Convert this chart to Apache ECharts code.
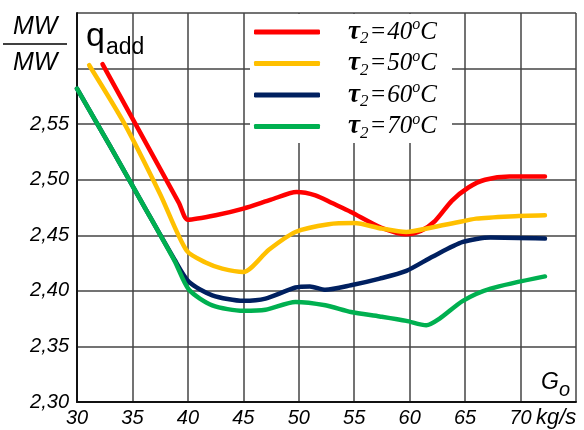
<!DOCTYPE html>
<html><head><meta charset="utf-8">
<script src="https://cdn.jsdelivr.net/npm/echarts@6/dist/echarts.min.js"></script>
<style>html,body{margin:0;padding:0;background:#fff}#c{width:584px;height:430px}</style>
</head><body><div id="c"></div>
<script>
const seriesNames = ['40', '50', '60', '70'];
const colors = ['#ff0000', '#ffc000', '#002060', '#00b050'];
const xTicks = [30, 35, 40, 45, 50, 55, 60, 65, 70, 75];
const yTicks = [2.30, 2.35, 2.40, 2.45, 2.50, 2.55, 2.60, 2.65];

const redX = [32.3, 36, 39.2, 40, 42.5, 45, 47.5, 49.8, 51.5, 53, 54.7, 57.4, 59.6, 61, 62.3, 63.8, 65.3, 66.8, 69, 72.2];
const redY = [2.604, 2.537, 2.479, 2.464, 2.468, 2.474, 2.482, 2.489, 2.486, 2.479, 2.471, 2.457, 2.451, 2.454, 2.463, 2.481, 2.493, 2.500, 2.503, 2.503];

const yelX = [31.1, 34.3, 37.5, 39.9, 41.7, 43.1, 45, 47.3, 49.7, 52.7, 55, 57.5, 59.7, 62, 64, 66, 69, 72.2];
const yelY = [2.603, 2.550, 2.487, 2.436, 2.425, 2.420, 2.417, 2.437, 2.453, 2.460, 2.461, 2.456, 2.453, 2.457, 2.461, 2.465, 2.467, 2.468];

const navX = [30, 33, 36, 38.8, 40.1, 42.2, 45, 47, 49.7, 51, 52.4, 54.7, 57.3, 59.7, 62.1, 64.8, 67.3, 72.2];
const navY = [2.582, 2.530, 2.477, 2.428, 2.408, 2.396, 2.391, 2.393, 2.403, 2.404, 2.401, 2.405, 2.411, 2.418, 2.431, 2.444, 2.448, 2.447];

const grnX = [30, 33, 36, 38.8, 40.1, 42.2, 45, 47, 49.7, 52.4, 54.7, 57.3, 59.7, 61.5, 62.7, 64.8, 67.3, 72.2];
const grnY = [2.582, 2.530, 2.477, 2.427, 2.401, 2.387, 2.382, 2.383, 2.390, 2.387, 2.381, 2.377, 2.373, 2.369, 2.375, 2.391, 2.402, 2.413];

const allX = [redX, yelX, navX, grnX];
const allY = [redY, yelY, navY, grnY];

const chart = echarts.init(document.getElementById('c'));
const series = seriesNames.map((n, i) => ({
  name: n,
  type: 'line',
  smooth: 0.25,
  showSymbol: false,
  symbol: 'none',
  z: 3,
  lineStyle: { color: colors[i], width: 4.5, cap: 'round', join: 'round' },
  itemStyle: { color: colors[i] },
  data: allX[i].map((x, k) => [x, allY[i][k]])
}));

const italicSans = 'Liberation Sans, Arial, sans-serif';
const serif = 'Liberation Serif, Times New Roman, serif';

chart.setOption({
  animation: false,
  backgroundColor: '#fff',
  grid: { left: 77, right: 8, top: 13, bottom: 28 },
  xAxis: {
    type: 'value', min: 30, max: 75, interval: 5,
    axisLine: { show: true, lineStyle: { color: '#111', width: 2 } },
    axisTick: { show: false },
    splitLine: { show: true, lineStyle: { color: '#444', width: 1.5 } },
    axisLabel: {
      color: '#000', fontSize: 20, fontStyle: 'italic', fontFamily: italicSans, margin: 6,
      formatter: v => (v === 75 ? '' : String(v))
    }
  },
  yAxis: {
    type: 'value', min: 2.30, max: 2.65, interval: 0.05,
    axisLine: { show: true, lineStyle: { color: '#111', width: 2 } },
    axisTick: { show: false },
    splitLine: { show: true, lineStyle: { color: '#444', width: 1.5 } },
    axisLabel: {
      color: '#000', fontSize: 20, fontStyle: 'italic', fontFamily: italicSans, margin: 8,
      formatter: v => (v > 2.56 ? '' : v.toFixed(2).replace('.', ','))
    }
  },
  legend: {
    orient: 'vertical', left: 249, top: 12, itemGap: 1,
    itemWidth: 66, itemHeight: 5, icon: 'roundRect', z: 5,
    data: seriesNames,
    formatter: n => '{sp|}{tau|τ}{s|2}{e|=}{t|' + n + '}{p|o}{t|C}',
    textStyle: {
      rich: {
        sp: { width: 23, height: 24, lineHeight: 24 },
        tau: { fontFamily: serif, fontStyle: 'italic', fontWeight: 'bold', fontSize: 27, height: 24, lineHeight: 24, color: '#000' },
        t: { fontFamily: serif, fontStyle: 'italic', fontSize: 25, height: 24, lineHeight: 24, color: '#000' },
        e: { fontFamily: serif, fontStyle: 'italic', fontSize: 25, height: 24, lineHeight: 24, color: '#000', padding: [0, 1, 0, 1] },
        s: { fontFamily: serif, fontStyle: 'italic', fontSize: 17, height: 10, lineHeight: 10, verticalAlign: 'bottom', color: '#000' },
        p: { fontFamily: serif, fontStyle: 'italic', fontSize: 16, height: 10, lineHeight: 10, verticalAlign: 'top', color: '#000' }
      }
    }
  },
  graphic: [
    { type: 'rect', shape: { x: 250, y: 14, width: 202, height: 129 }, style: { fill: '#fff' }, z: 1, silent: true },
    { type: 'text', left: 13, top: 15, style: { text: 'MW', font: 'italic 25px ' + italicSans, fill: '#000' } },
    { type: 'line', shape: { x1: 3, y1: 44, x2: 67, y2: 44 }, style: { stroke: '#000', lineWidth: 1.5 } },
    { type: 'text', left: 13, top: 51, style: { text: 'MW', font: 'italic 25px ' + italicSans, fill: '#000' } },
    { type: 'text', left: 86, top: 20, z: 5, style: {
        text: '{q|q}{a|add}', rich: {
          q: { fontFamily: italicSans, fontSize: 34, height: 34, lineHeight: 34 },
          a: { fontFamily: italicSans, fontSize: 23, height: 12, lineHeight: 12, verticalAlign: 'bottom', padding: [0, 0, 0, 1] }
        }, fill: '#000' } },
    { type: 'text', left: 541, top: 371, z: 5, style: {
        text: '{g|G}{o|o}', rich: {
          g: { fontFamily: italicSans, fontStyle: 'italic', fontSize: 23, height: 24, lineHeight: 24 },
          o: { fontFamily: italicSans, fontStyle: 'italic', fontSize: 20, height: 9, lineHeight: 9, verticalAlign: 'bottom' }
        }, fill: '#000' } },
    { type: 'text', left: 536, top: 407, style: { text: 'kg/s', font: 'italic 22px ' + italicSans, fill: '#000' } }
  ],
  series: series
});
</script></body></html>
